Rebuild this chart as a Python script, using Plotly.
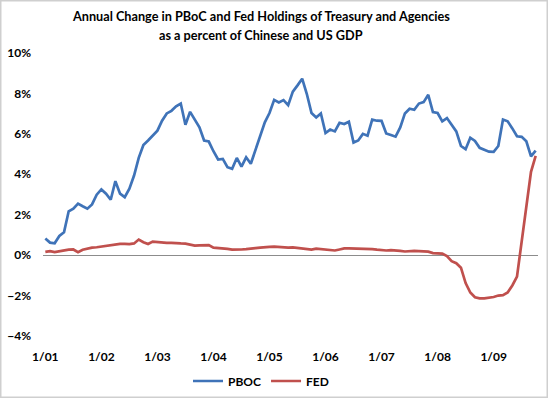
import plotly.graph_objects as go

# Monthly categories 1/01 .. 10/09
months = [f"{m}/{y:02d}" for y in range(1, 10) for m in range(1, 13)][:106]
tick_labels = ["1/01", "1/02", "1/03", "1/04", "1/05", "1/06", "1/07", "1/08", "1/09"]

pboc = [0.82, 0.62, 0.59, 0.95, 1.13, 2.17, 2.30, 2.55, 2.42, 2.30,
        2.51, 2.99, 3.25, 3.04, 2.74, 3.66, 3.04, 2.87, 3.29, 3.94,
        4.81, 5.45, 5.67, 5.90, 6.16, 6.65, 7.01, 7.14, 7.36, 7.50,
        6.45, 7.09, 6.70, 6.32, 5.67, 5.62, 5.14, 4.73, 4.76, 4.35,
        4.27, 4.81, 4.38, 4.84, 4.52, 5.17, 5.83, 6.57, 7.03, 7.68,
        7.55, 7.67, 7.42, 8.09, 8.40, 8.73, 7.97, 7.03, 6.81, 7.01,
        6.04, 6.21, 6.12, 6.55, 6.49, 6.60, 5.57, 5.67, 6.00, 5.91,
        6.70, 6.65, 6.64, 6.02, 5.94, 5.86, 6.32, 7.01, 7.24, 7.19,
        7.50, 7.57, 7.93, 7.08, 7.03, 6.62, 6.78, 6.45, 6.12, 5.40,
        5.24, 5.81, 5.65, 5.31, 5.20, 5.12, 5.11, 5.40, 6.71, 6.62,
        6.27, 5.88, 5.85, 5.63, 4.89, 5.17]

fed = [0.16, 0.20, 0.15, 0.19, 0.24, 0.27, 0.28, 0.15, 0.27, 0.33,
       0.37, 0.39, 0.42, 0.45, 0.50, 0.54, 0.56, 0.56, 0.55, 0.58,
       0.77, 0.64, 0.55, 0.67, 0.64, 0.62, 0.61, 0.61, 0.61, 0.58,
       0.57, 0.52, 0.47, 0.48, 0.48, 0.50, 0.37, 0.36, 0.34, 0.31,
       0.27, 0.26, 0.28, 0.30, 0.34, 0.35, 0.37, 0.40, 0.41, 0.42,
       0.40, 0.37, 0.37, 0.38, 0.35, 0.34, 0.30, 0.27, 0.32, 0.30,
       0.27, 0.24, 0.23, 0.28, 0.33, 0.33, 0.33, 0.32, 0.32, 0.31,
       0.30, 0.27, 0.24, 0.23, 0.25, 0.24, 0.21, 0.18, 0.20, 0.21,
       0.20, 0.19, 0.17, 0.10, 0.09, 0.08, -0.05, -0.30, -0.40, -0.62,
       -1.38, -1.85, -2.08, -2.14, -2.14, -2.12, -2.07, -2.00, -1.98, -1.85,
       -1.50, -1.06, 0.62, 2.35, 4.12, 4.91]

FONT = "Lato"
W, H = 548, 398
ML, MR, MT, MB = 43, 10, 53, 62
pw, ph = W - ML - MR, H - MT - MB

def px(x):
    return (x - ML) / pw

def py(y):
    return (H - MB - y) / ph

fig = go.Figure()
fig.add_trace(go.Scatter(x=months, y=pboc, name="PBOC", mode="lines",
                         line=dict(color="#3F73B8", width=2.7)))
fig.add_trace(go.Scatter(x=months, y=fed, name="FED", mode="lines",
                         line=dict(color="#C0504D", width=2.7)))

fig.update_layout(
    width=W, height=H,
    margin=dict(l=ML, r=MR, t=MT, b=MB, autoexpand=False),
    paper_bgcolor="white", plot_bgcolor="white",
    font=dict(family=FONT, size=12, color="black"),
    showlegend=True,
    legend=dict(orientation="h", xref="container", yref="container",
                x=261 / W, xanchor="center", y=1 - 381 / H, yanchor="middle",
                font=dict(family=FONT, size=12, weight="bold"), itemwidth=30,
                tracegroupgap=0, bgcolor="rgba(0,0,0,0)"),
    xaxis=dict(type="category", range=[-0.5, 105.5], tickmode="array",
               tickvals=tick_labels, ticktext=tick_labels, showgrid=False,
               showline=False, zeroline=False, ticks="", ticklabelstandoff=12,
               automargin=False,
               tickfont=dict(family=FONT, size=12, weight="bold")),
    yaxis=dict(range=[-4, 10], dtick=2, ticksuffix="%", showgrid=False,
               showline=False, zeroline=True, zerolinecolor="#8C8C8C", zerolinewidth=1,
               ticks="", ticklabelstandoff=11, automargin=False,
               tickfont=dict(family=FONT, size=12, weight="bold")),
    annotations=[
        dict(text="Annual Change in PBoC and Fed Holdings of Treasury and Agencies",
             xref="paper", yref="paper", x=px(261), y=py(16), xanchor="center", yanchor="middle",
             showarrow=False, font=dict(family=FONT, size=12.7, weight="bold")),
        dict(text="as a percent of Chinese and US GDP",
             xref="paper", yref="paper", x=px(261), y=py(35), xanchor="center", yanchor="middle",
             showarrow=False, font=dict(family=FONT, size=12.7, weight="bold")),
    ],
    shapes=[dict(type="rect", xref="paper", yref="paper",
                 x0=px(0.75), x1=px(547.25), y0=py(0.75), y1=py(397.25),
                 line=dict(color="#CFCFCF", width=1.5), fillcolor="rgba(0,0,0,0)", layer="below")],
)

fig.write_html("out.html", config={"displayModeBar": False},
               post_script="document.body.style.margin='0';document.body.style.padding='0';")
